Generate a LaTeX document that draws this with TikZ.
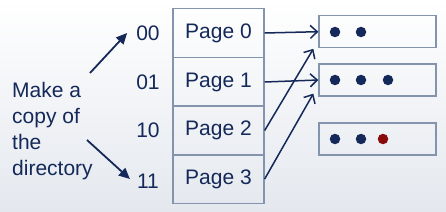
\documentclass[tikz,border=0pt]{standalone}
\usepackage{fontspec}
\setmainfont{Liberation Sans}
\usetikzlibrary{arrows.meta,calc}
\definecolor{navy}{HTML}{14295A}
\definecolor{boxline}{HTML}{8494AC}
\definecolor{dotred}{HTML}{8A0A0A}
\definecolor{bgbot}{HTML}{E4E8EE}
\begin{document}
\begin{tikzpicture}[x=1pt,y=-1pt,
  txt/.style={font=\fontsize{21}{26}\selectfont, text=navy, inner sep=0pt},
  cell/.style={draw=boxline, line width=1.3pt, minimum width=91pt, minimum height=49pt, inner sep=0pt, font=\fontsize{21}{25}\selectfont, text=navy},
  bucket/.style={draw=boxline, line width=1.3pt, minimum width=117pt, minimum height=32pt, inner sep=0pt},
  rec/.style={circle, fill=navy, minimum size=10.5pt, inner sep=0pt},
  redrec/.style={circle, fill=dotred, minimum size=10.5pt, inner sep=0pt},
  ptr/.style={draw=navy, line width=1.5pt, -{Straight Barb[length=7pt,width=13pt,line width=1.5pt]}},
  note/.style={draw=navy, line width=1.8pt, -{Triangle[length=11pt,width=10pt]}}
]
\useasboundingbox (0,0) rectangle (446,211);
\fill[top color=white, bottom color=bgbot] (0,0) rectangle (446,211);

% directory
\node[cell] (p0) at (218.5,33) {Page 0};
\node[cell] (p1) at (218.5,82) {Page 1};
\node[cell] (p2) at (218.5,130.5) {Page 2};
\node[cell] (p3) at (218.5,179) {Page 3};

% labels
\node[txt] (l0) at (148,33) {00};
\node[txt] (l1) at (148,82) {01};
\node[txt] (l2) at (148,130.5) {10};
\node[txt] (l3) at (148,181) {11};

% buckets
\node[bucket] (b0) at (377.5,31.7) {};
\node[bucket] (b1) at (377.5,80) {};
\node[bucket] (b2) at (377.5,139) {};

\node[rec] (d00) at (335,32) {};
\node[rec] (d01) at (361,32) {};
\node[rec] (d10) at (335,80) {};
\node[rec] (d11) at (361,80) {};
\node[rec] (d12) at (388,80) {};
\node[rec] (d20) at (335,139) {};
\node[rec] (d21) at (361,139) {};
\node[redrec] (d22) at (383,139) {};

% pointers
\draw[ptr] (p0.east) -- (b0.west);
\draw[ptr] (p1.east) -- (b1.west);
\coordinate (t2) at ($(b0.south west)+(-5,0.5)$);
\coordinate (t3) at ($(b1.south west)+(-5,-3)$);
\draw[ptr] (p2.east) -- (t2);
\draw[ptr] (p3.east) -- (t3);

% note
\node[txt, align=left, anchor=north west] (note) at (12,82) {Make a\\copy of\\the\\directory};
\coordinate (n0) at (90,73);
\coordinate (n3) at (87,140);
\draw[note] (n0) -- ($(l0.west)+(-9,0)$);
\draw[note] (n3) -- ($(l3.west)+(-7,-2)$);
\end{tikzpicture}
\end{document}
